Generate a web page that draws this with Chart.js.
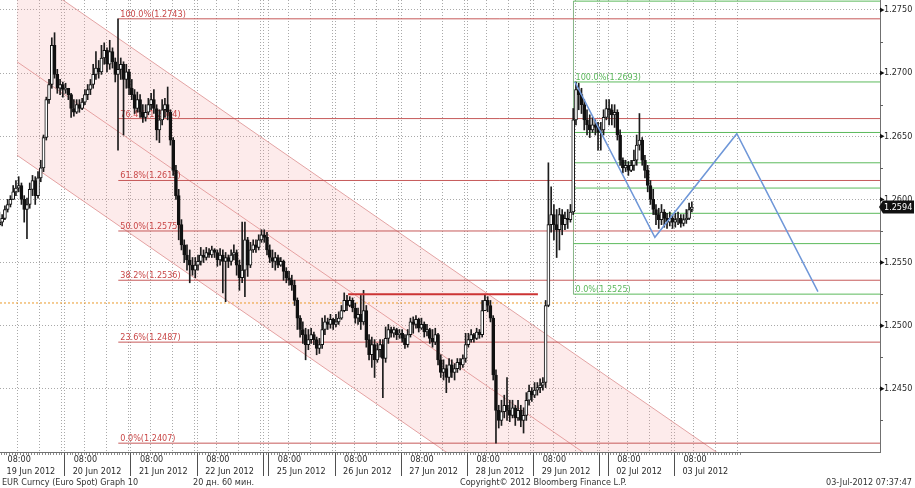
<!DOCTYPE html>
<html lang="en">
<head>
<meta charset="UTF-8"/>
<title>EUR Curncy (Euro Spot) Graph 10</title>
<script src="https://cdn.jsdelivr.net/npm/chart.js"></script>
<style>
  html, body { margin: 0; padding: 0; background: #fff; }
  #eurChart { display: block; }
</style>
</head>
<body>
<canvas id="eurChart" width="915" height="488" style="width:915px;height:488px"></canvas>
<script>
// hourly EURUSD bars, 19 Jun - 03 Jul 2012 (open = previous close)
const firstOpen = 1.2580;
const barClose = [
  // 19 Jun
  1.2582,1.2585,1.2592,1.2596,1.2600,1.2606,1.2609,1.2611,1.2600,1.2592,1.2596,1.2608,1.2615,1.2603,1.2617,1.2625,1.2649,1.2679,1.2691,1.2722,1.2699,1.2688,1.2691,1.2687,
  // 20 Jun
  1.2688,1.2683,1.2672,1.2669,1.2675,1.2672,1.2677,1.2683,1.2687,1.2691,1.2699,1.2704,1.2701,1.2712,1.2718,1.2707,1.2717,1.2709,1.2699,1.2703,1.2707,1.2695,1.2701,1.2688,
  // 21 Jun
  1.2683,1.2672,1.2679,1.2669,1.2665,1.2669,1.2675,1.2679,1.2672,1.2655,1.2663,1.2671,1.2675,1.2669,1.2647,1.2623,1.2603,1.2580,1.2564,1.2556,1.2552,1.2548,1.2544,1.2548,
  // 22 Jun
  1.2551,1.2556,1.2554,1.2558,1.2556,1.2560,1.2558,1.2552,1.2556,1.2551,1.2554,1.2551,1.2556,1.2558,1.2548,1.2538,1.2544,1.2568,1.2548,1.2560,1.2564,1.2562,1.2568,1.2572,
  // Sunday + 25 Jun
  1.2570,
  1.2560,1.2554,1.2551,1.2554,1.2548,1.2551,1.2543,1.2538,1.2536,1.2532,1.2520,1.2506,1.2497,1.2493,1.2485,1.2489,1.2493,1.2489,1.2482,1.2485,1.2497,1.2503,1.2501,1.2505,1.2501,
  // 26 Jun
  1.2503,1.2506,1.2512,1.2520,1.2516,1.2520,1.2514,1.2506,1.2509,1.2503,1.2512,1.2489,1.2477,1.2485,1.2473,1.2481,1.2485,1.2474,1.2490,1.2497,1.2494,1.2497,1.2493,1.2494,
  // 27 Jun
  1.2490,1.2485,1.2493,1.2503,1.2501,1.2505,1.2498,1.2501,1.2495,1.2497,1.2490,1.2487,1.2493,1.2473,1.2463,1.2466,1.2459,1.2469,1.2463,1.2466,1.2471,1.2469,1.2474,1.2485,
  // 28 Jun
  1.2489,1.2493,1.2490,1.2495,1.2493,1.2512,1.2520,1.2516,1.2506,1.2461,1.2433,1.2425,1.2432,1.2437,1.2433,1.2429,1.2435,1.2427,1.2433,1.2425,1.2429,1.2441,1.2448,1.2445,
  // 29 Jun
  1.2449,1.2451,1.2453,1.2455,1.2516,1.2580,1.2588,1.2580,1.2576,1.2588,1.2580,1.2585,1.2584,1.2590,1.2663,1.2687,1.2683,1.2675,1.2663,1.2659,1.2655,1.2659,1.2657,1.2653,
  // Sunday 01 Jul
  1.2655,1.2665,1.2672,
  // 02 Jul
  1.2671,1.2667,1.2669,1.2651,1.2631,1.2625,1.2627,1.2623,1.2627,1.2631,1.2643,1.2647,1.2631,1.2623,1.2611,1.2600,1.2592,1.2588,1.2584,1.2590,1.2585,1.2582,1.2585,1.2582,
  // 03 Jul
  1.2584,1.2585,1.2581,1.2584,1.2585,1.2592,1.2594
];
const barHigh = [
  1.2590,1.2588,1.2595,1.2600,1.2603,1.2611,1.2615,1.2618,1.2613,1.2603,1.2601,1.2613,1.2619,1.2618,1.2622,1.2631,1.2651,1.2681,1.2695,1.2728,1.2732,1.2703,1.2695,1.2693,
  1.2692,1.2688,1.2684,1.2679,1.2679,1.2679,1.2680,1.2687,1.2691,1.2695,1.2707,1.2717,1.2710,1.2722,1.2724,1.2720,1.2726,1.2720,1.2712,1.2743,1.2712,1.2709,1.2707,1.2703,
  1.2695,1.2687,1.2685,1.2683,1.2675,1.2675,1.2680,1.2684,1.2687,1.2675,1.2671,1.2679,1.2680,1.2689,1.2671,1.2649,1.2627,1.2608,1.2584,1.2568,1.2564,1.2560,1.2554,1.2554,
  1.2556,1.2562,1.2560,1.2562,1.2561,1.2563,1.2561,1.2560,1.2561,1.2560,1.2558,1.2556,1.2560,1.2564,1.2560,1.2552,1.2582,1.2582,1.2570,1.2566,1.2568,1.2568,1.2572,1.2576,
  1.2576,
  1.2574,1.2564,1.2560,1.2558,1.2556,1.2554,1.2552,1.2546,1.2543,1.2540,1.2536,1.2522,1.2508,1.2503,1.2498,1.2497,1.2498,1.2495,1.2491,1.2490,1.2506,1.2508,1.2506,1.2509,1.2506,
  1.2509,1.2511,1.2516,1.2526,1.2524,1.2523,1.2522,1.2518,1.2514,1.2524,1.2528,1.2516,1.2493,1.2491,1.2489,1.2486,1.2489,1.2489,1.2499,1.2501,1.2499,1.2499,1.2498,1.2497,
  1.2497,1.2493,1.2497,1.2506,1.2507,1.2508,1.2506,1.2506,1.2503,1.2501,1.2498,1.2497,1.2498,1.2494,1.2477,1.2473,1.2469,1.2474,1.2473,1.2470,1.2474,1.2474,1.2477,1.2494,
  1.2494,1.2497,1.2494,1.2498,1.2497,1.2520,1.2524,1.2523,1.2520,1.2508,1.2465,1.2437,1.2441,1.2445,1.2459,1.2441,1.2441,1.2437,1.2441,1.2437,1.2435,1.2447,1.2453,1.2451,
  1.2455,1.2455,1.2458,1.2459,1.2520,1.2629,1.2610,1.2596,1.2592,1.2593,1.2592,1.2590,1.2592,1.2596,1.2672,1.2693,1.2692,1.2688,1.2679,1.2671,1.2667,1.2665,1.2663,1.2661,
  1.2661,1.2671,1.2679,
  1.2679,1.2675,1.2675,1.2671,1.2655,1.2633,1.2631,1.2630,1.2631,1.2639,1.2651,1.2668,1.2649,1.2635,1.2627,1.2615,1.2608,1.2596,1.2593,1.2596,1.2592,1.2589,1.2590,1.2588,
  1.2589,1.2590,1.2588,1.2588,1.2592,1.2597,1.2598
];
const barLow = [
  1.2579,1.2579,1.2584,1.2590,1.2594,1.2600,1.2603,1.2606,1.2596,1.2582,1.2569,1.2593,1.2603,1.2596,1.2601,1.2614,1.2622,1.2647,1.2676,1.2688,1.2696,1.2684,1.2683,1.2681,
  1.2684,1.2679,1.2665,1.2666,1.2668,1.2669,1.2671,1.2675,1.2679,1.2683,1.2688,1.2695,1.2696,1.2699,1.2707,1.2701,1.2703,1.2704,1.2693,1.2639,1.2695,1.2651,1.2688,1.2683,
  1.2679,1.2668,1.2669,1.2665,1.2661,1.2662,1.2667,1.2671,1.2668,1.2647,1.2645,1.2659,1.2665,1.2663,1.2643,1.2619,1.2600,1.2568,1.2560,1.2550,1.2544,1.2534,1.2540,1.2538,
  1.2544,1.2548,1.2550,1.2552,1.2554,1.2554,1.2554,1.2547,1.2548,1.2526,1.2519,1.2546,1.2548,1.2552,1.2540,1.2528,1.2534,1.2523,1.2539,1.2546,1.2558,1.2558,1.2560,1.2566,
  1.2566,
  1.2556,1.2550,1.2546,1.2544,1.2546,1.2547,1.2536,1.2534,1.2532,1.2528,1.2516,1.2497,1.2491,1.2486,1.2473,1.2481,1.2486,1.2485,1.2477,1.2478,1.2482,1.2493,1.2497,1.2498,1.2497,
  1.2499,1.2501,1.2505,1.2511,1.2512,1.2515,1.2511,1.2502,1.2501,1.2497,1.2501,1.2483,1.2473,1.2467,1.2459,1.2471,1.2475,1.2443,1.2471,1.2486,1.2491,1.2491,1.2489,1.2490,
  1.2487,1.2482,1.2483,1.2491,1.2494,1.2498,1.2495,1.2497,1.2491,1.2492,1.2486,1.2483,1.2485,1.2469,1.2459,1.2457,1.2447,1.2455,1.2459,1.2457,1.2463,1.2465,1.2467,1.2471,
  1.2483,1.2487,1.2487,1.2489,1.2490,1.2491,1.2512,1.2511,1.2503,1.2457,1.2407,1.2419,1.2421,1.2427,1.2425,1.2424,1.2427,1.2421,1.2425,1.2420,1.2415,1.2425,1.2437,1.2440,
  1.2443,1.2445,1.2447,1.2449,1.2451,1.2515,1.2574,1.2568,1.2554,1.2560,1.2572,1.2576,1.2577,1.2582,1.2588,1.2659,1.2671,1.2668,1.2655,1.2651,1.2649,1.2653,1.2651,1.2639,
  1.2639,1.2651,1.2663,
  1.2659,1.2659,1.2657,1.2647,1.2627,1.2621,1.2622,1.2619,1.2622,1.2623,1.2627,1.2639,1.2627,1.2617,1.2606,1.2596,1.2588,1.2580,1.2577,1.2580,1.2578,1.2577,1.2579,1.2577,
  1.2578,1.2580,1.2578,1.2579,1.2581,1.2584,1.2590
];

// time axis (in bar slots, one slot = one hour)
const dayLabels = ['19 Jun 2012','20 Jun 2012','21 Jun 2012','22 Jun 2012','25 Jun 2012','26 Jun 2012',
                   '27 Jun 2012','28 Jun 2012','29 Jun 2012','02 Jul 2012','03 Jul 2012'];
const dayStart = [0, 24, 48, 72, 98, 122, 146, 170, 194, 221, 245];
const weekendEnd = [96, 218];
const hourLabel = '08:00';
const yTicks = [1.2450, 1.2500, 1.2550, 1.2600, 1.2650, 1.2700, 1.2750];

// drawn studies
const chanX = [6.9, 261.7];
const chanUpper = [1.2783, 1.2398];
const chanMid = [1.2709, 1.2325];
const chanLower = [1.2635, 1.2250];

const redStart = 43.6;
const redPct = ['100.0', '76.4', '61.8', '50.0', '38.2', '23.6', '0.0'];
const redLevel = [1.2743, 1.2664, 1.2615, 1.2575, 1.2536, 1.2487, 1.2407];

const greenStart = 208.6;
const greenLevel = [1.2757, 1.2693, 1.2653, 1.2629, 1.2609, 1.2589, 1.2565, 1.2525];
const greenText = ['', '100.0%(1.2693)', '', '', '', '', '', '0.0%(1.2525)'];

const resistX = [126.9, 195.7];
const resistY = 1.2525;
const orangeY = 1.2518;
const projX = [209.1, 238.1, 267.8, 297.2];
const projY = [1.2693, 1.2570, 1.2652, 1.2527];

const X_MIN = 0.725, X_MAX = 319.7;
const Y_MIN = 1.2400, Y_MAX = 1.27579;
const FONT = '"DejaVu Sans Condensed", "DejaVu Sans", sans-serif';

// build candles
const bars = barClose.map((c, i) => ({
  x: i + 0.5, o: i === 0 ? firstOpen : barClose[i - 1], h: barHigh[i], l: barLow[i], c
}));

const seg = (xs, ys) => xs.map((x, i) => ({ x, y: Array.isArray(ys) ? ys[i] : ys }));
const lineDs = (data, color, width, extra) => Object.assign({
  type: 'line', data, borderColor: color, borderWidth: width,
  pointRadius: 0, fill: false, tension: 0, order: 9
}, extra || {});

const datasets = [];
datasets.push(lineDs(seg(chanX, chanUpper), '#e3a4a4', 1,
  { fill: '+2', backgroundColor: 'rgba(245,150,150,0.19)', order: 10 }));
datasets.push(lineDs(seg(chanX, chanMid), '#e3a4a4', 1, { order: 10 }));
datasets.push(lineDs(seg(chanX, chanLower), '#e3a4a4', 1, { order: 10 }));
redLevel.forEach(v => datasets.push(lineDs(seg([redStart, X_MAX], v), '#c65a5a', 1)));
greenLevel.forEach(v => datasets.push(lineDs(seg([greenStart, X_MAX], v), '#5cba5c', 1)));
datasets.push(lineDs([{ x: greenStart, y: greenLevel[0] }, { x: greenStart, y: greenLevel[greenLevel.length - 1] }], '#8ab88a', 1));
datasets.push(lineDs(seg([X_MIN, X_MAX], orangeY), '#eb9a2a', 1, { borderDash: [2, 2] }));

const WICK = datasets.length;
datasets.push({
  type: 'bar', data: bars.map(b => ({ x: b.x, y: [b.l, b.h] })),
  backgroundColor: '#1c1c1c', borderWidth: 0, barThickness: 1, grouped: false, order: 6
});
datasets.push({
  type: 'bar', data: bars.map(b => ({ x: b.x, y: [Math.min(b.o, b.c), Math.max(b.o, b.c)] })),
  backgroundColor: bars.map(b => b.c >= b.o ? '#ffffff' : '#111111'),
  borderColor: '#111111', borderWidth: 1, borderSkipped: false,
  barThickness: 3, minBarLength: 1, grouped: false, order: 5
});
datasets.push(lineDs(seg(resistX, resistY), '#cc3434', 2, { order: 1 }));
datasets.push(lineDs(seg(projX, projY), '#6f97d8', 1.5, { order: 1 }));

const decor = {
  id: 'decor',
  beforeDatasetsDraw(chart) {
    const { ctx, chartArea: a, scales: { x } } = chart;
    const gx = weekendEnd.slice();
    dayStart.forEach(d => gx.push(d, d + 7, d + 15, d + 23));
    ctx.save();
    ctx.strokeStyle = '#a9a9a9';
    ctx.lineWidth = 1;
    ctx.setLineDash([1, 2]);
    gx.forEach(s => {
      const px = Math.round(x.getPixelForValue(s)) + 0.5;
      if (px < a.left || px > a.right) return;
      ctx.beginPath(); ctx.moveTo(px, a.top); ctx.lineTo(px, a.bottom); ctx.stroke();
    });
    ctx.restore();
  },
  beforeDatasetDraw(chart, args) {
    if (args.index !== WICK) return;
    const { ctx, scales: { x, y } } = chart;
    ctx.save();
    ctx.font = '9px ' + FONT;
    ctx.textBaseline = 'alphabetic';
    ctx.fillStyle = '#c94848';
    redLevel.forEach((v, i) => {
      ctx.fillText(redPct[i] + '%(' + v.toFixed(4) + ')', x.getPixelForValue(redStart) + 2, y.getPixelForValue(v) - 2);
    });
    ctx.fillStyle = '#5cb85c';
    greenLevel.forEach((v, i) => {
      if (greenText[i]) ctx.fillText(greenText[i], x.getPixelForValue(greenStart) + 2, y.getPixelForValue(v) - 2);
    });
    ctx.restore();
  },
  afterDraw(chart) {
    const { ctx, chartArea: a, scales: { x, y } } = chart;
    ctx.save();
    // axis lines
    ctx.strokeStyle = '#707070';
    ctx.lineWidth = 1;
    ctx.beginPath();
    ctx.moveTo(a.left, a.bottom + 0.5); ctx.lineTo(a.right + 1, a.bottom + 0.5);
    ctx.moveTo(a.right + 0.5, a.top); ctx.lineTo(a.right + 0.5, a.bottom + 1);
    ctx.stroke();
    // hourly ticks on the time axis
    ctx.strokeStyle = '#8a8a8a';
    ctx.beginPath();
    for (let s = 1; s <= dayStart[dayStart.length - 1] + 24; s++) {
      const px = Math.round(x.getPixelForValue(s)) + 0.5;
      if (px > a.right) break;
      ctx.moveTo(px, a.bottom + 1); ctx.lineTo(px, a.bottom + 3);
    }
    ctx.stroke();
    // day separators and labels
    ctx.strokeStyle = '#505050';
    ctx.beginPath();
    dayStart.concat(weekendEnd).forEach(s => {
      const px = Math.round(x.getPixelForValue(s)) + 0.5;
      if (px < a.left) return;
      ctx.moveTo(px, a.bottom + 1); ctx.lineTo(px, a.bottom + 24);
    });
    ctx.stroke();
    ctx.font = '9px ' + FONT;
    ctx.fillStyle = '#2a2a2a';
    ctx.textBaseline = 'alphabetic';
    dayStart.forEach((s, i) => {
      const px = x.getPixelForValue(s) + 8.5;
      ctx.fillText(hourLabel, px + 1, a.bottom + 10);
      ctx.fillText(dayLabels[i], px, a.bottom + 22);
    });
    // value axis ticks
    ctx.fillStyle = '#111';
    ctx.strokeStyle = '#606060';
    yTicks.forEach(v => {
      const py = y.getPixelForValue(v);
      ctx.beginPath();
      ctx.moveTo(a.right, py - 2.5); ctx.lineTo(a.right + 4.5, py); ctx.lineTo(a.right, py + 2.5);
      ctx.closePath(); ctx.fill();
      const pm = Math.round(y.getPixelForValue(v + 0.0025)) + 0.5;
      if (pm > a.top) {
        ctx.beginPath(); ctx.moveTo(a.right, pm); ctx.lineTo(a.right + 3, pm); ctx.stroke();
      }
    });
    const pmb = Math.round(y.getPixelForValue(yTicks[0] - 0.0025)) + 0.5;
    ctx.beginPath(); ctx.moveTo(a.right, pmb); ctx.lineTo(a.right + 3, pmb); ctx.stroke();
    // last price tag
    const last = barClose[barClose.length - 1];
    const ty = y.getPixelForValue(last);
    ctx.fillStyle = '#111';
    ctx.beginPath();
    ctx.moveTo(a.right - 1, ty);
    ctx.lineTo(a.right + 3, ty - 6.5); ctx.lineTo(a.right + 34, ty - 6.5);
    ctx.lineTo(a.right + 34, ty + 6.5); ctx.lineTo(a.right + 3, ty + 6.5);
    ctx.closePath(); ctx.fill();
    ctx.fillStyle = '#fff';
    ctx.textBaseline = 'middle';
    ctx.fillText(last.toFixed(4), a.right + 4, ty + 0.5);
    // footer
    ctx.fillStyle = '#333';
    ctx.textBaseline = 'alphabetic';
    ctx.fillText('EUR Curncy (Euro Spot) Graph 10', 2, 485);
    ctx.fillText('20 дн. 60 мин.', 193, 485);
    ctx.fillText('Copyright\u00a9 2012 Bloomberg Finance L.P.', 460, 485);
    ctx.textAlign = 'right';
    ctx.fillText('03-Jul-2012 07:37:47', 912, 485);
    ctx.restore();
  }
};

new Chart(document.getElementById('eurChart'), {
  type: 'bar',
  data: { datasets },
  options: {
    responsive: false,
    animation: false,
    devicePixelRatio: 1,
    events: [],
    layout: { padding: { left: 0, right: 0, top: 0, bottom: 36 } },
    plugins: { legend: { display: false }, tooltip: { enabled: false } },
    scales: {
      x: { type: 'linear', min: X_MIN, max: X_MAX, offset: false, display: false },
      y: {
        type: 'linear', position: 'right', min: Y_MIN, max: Y_MAX, beginAtZero: false,
        afterBuildTicks: s => { s.ticks = yTicks.map(v => ({ value: v })); },
        afterFit: s => { s.width = 35; s.paddingTop = 0; s.paddingBottom = 0; },
        ticks: { padding: 4, color: '#2a2a2a', font: { family: FONT, size: 9 }, callback: v => v.toFixed(4) },
        grid: { color: '#a9a9a9', drawTicks: false },
        border: { display: false, dash: [1, 2] }
      }
    }
  },
  plugins: [decor]
});
</script>
</body>
</html>
